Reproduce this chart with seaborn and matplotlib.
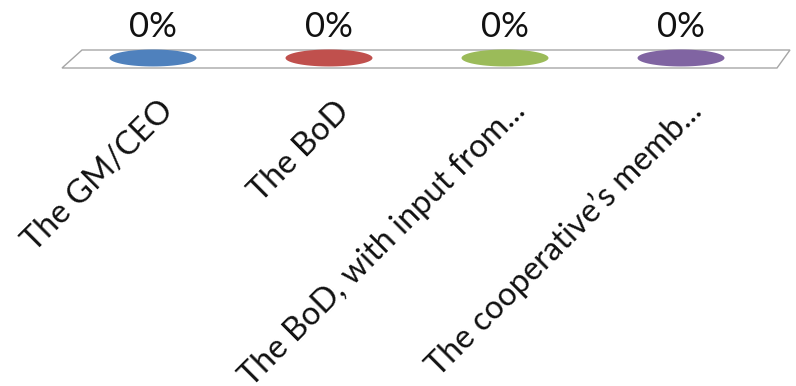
import matplotlib
matplotlib.use("Agg")
import matplotlib.pyplot as plt
import matplotlib.transforms as mtransforms
from matplotlib.path import Path
from matplotlib.patches import Polygon
import numpy as np
import pandas as pd
import seaborn as sns

categories = ["The GM/CEO", "The BoD", "The BoD, with input from...", "The cooperative\u2019s memb..."]
values = [0, 0, 0, 0]
value_labels = ["0%", "0%", "0%", "0%"]
colors = ["#4F81BD", "#C0504D", "#9BBB59", "#8064A2"]

sns.set_theme(style="white")
plt.rcParams["font.family"] = ["Lato", "DejaVu Sans"]

W, H = 796, 386
fig = plt.figure(figsize=(W / 100, H / 100), dpi=100)
ax_top_px, ax_bot_px = 0, 75
ax = fig.add_axes([0, 1 - ax_bot_px / H, 1, (ax_bot_px - ax_top_px) / H])

x0_px, dx_px, y0_px = 153, 176, 58
def px2x(p):
    return (p - x0_px) / dx_px
ax.set_xlim(px2x(0), px2x(W))
ax.set_ylim(y0_px - ax_bot_px, y0_px - ax_top_px)

floor = [(82, 50), (790, 50), (777, 68), (62, 68)]
ax.add_patch(Polygon([(px2x(a), y0_px - b) for a, b in floor], closed=True,
                     facecolor="white", edgecolor="#A6A6A6", lw=1.0, zorder=1))

t = np.linspace(0, 2 * np.pi, 73)
ell = Path(np.column_stack([np.cos(t), 0.195 * np.sin(t)]), closed=True)

df = pd.DataFrame({"cat": categories, "val": values, "pos": np.arange(len(categories))})
sns.scatterplot(data=df, x="pos", y="val", hue="cat", palette=colors, marker=ell,
                s=(87 * 0.72) ** 2, linewidth=0, legend=False, ax=ax, zorder=3)

for i, lab in enumerate(value_labels):
    ax.text(df["pos"][i], df["val"][i] + 31, lab, ha="center", va="center",
            fontsize=25, color="#111111")

ax.set_xticks(df["pos"])
ax.set_xticklabels(categories, rotation=45, ha="right", va="center",
                   rotation_mode="anchor", fontsize=23.5, color="#111111")
ax.tick_params(axis="x", length=0, pad=0)
offset = mtransforms.ScaledTranslation(16 / 100, -31 / 100, fig.dpi_scale_trans)
for lbl in ax.get_xticklabels():
    lbl.set_transform(lbl.get_transform() + offset)
ax.set_yticks([])
ax.set_xlabel("")
ax.set_ylabel("")
for s in ax.spines.values():
    s.set_visible(False)
ax.patch.set_alpha(0)

fig.savefig("out.png", dpi=100)
